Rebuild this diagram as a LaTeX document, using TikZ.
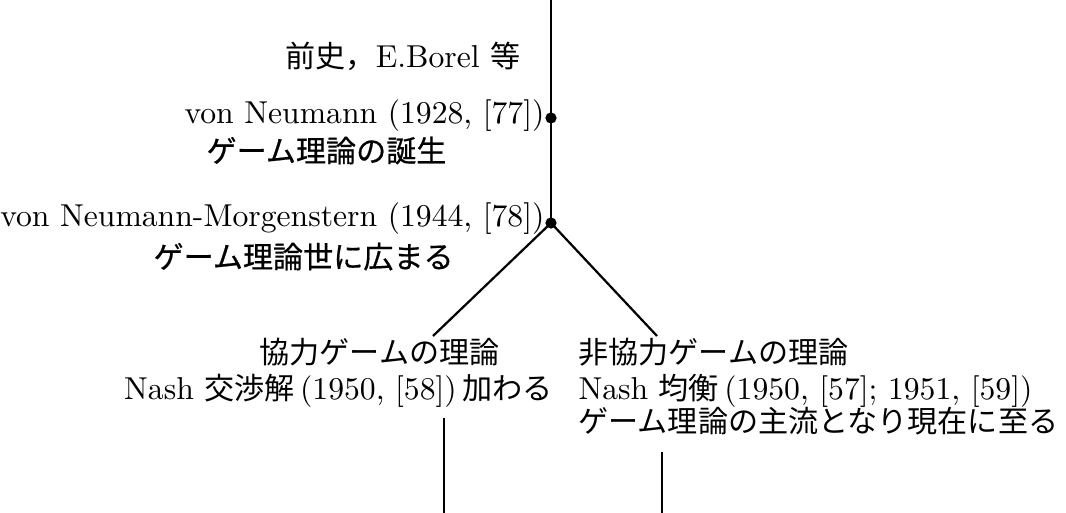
\documentclass[tikz,border=0pt]{standalone}
\usepackage{fontspec}
\newfontfamily\jp[Scale=0.95]{Noto Sans CJK JP}
\newfontfamily\goth[Scale=0.95,FakeBold=0.6]{Noto Sans CJK JP}
\newcommand{\tsp}{\hspace{0.17em}}
\tikzset{
  ln/.style={line width=0.75pt},
  dotm/.style={circle,fill=black,inner sep=0pt,minimum size=3.8pt},
  lbl/.style={inner sep=0pt,font=\fontsize{10.7}{13}\selectfont},
  glbl/.style={inner sep=0pt,font=\fontsize{10.7}{13}\selectfont\goth}
}
\begin{document}
\begin{tikzpicture}[x=0.3378pt,y=-0.3378pt]
\useasboundingbox (0,0) rectangle (1066,513);
\coordinate (top) at (551,0);
\node[dotm] (d1) at (551,118) {};
\node[dotm] (d2) at (551,223) {};
\coordinate (bl) at (433,336);
\coordinate (br) at (657,336);
\coordinate (l1) at (444,418);
\coordinate (l2) at (444,513);
\coordinate (r1) at (662,452);
\coordinate (r2) at (662,513);
\draw[ln] (top) -- (d1.center) -- (d2.center);
\draw[ln] (bl) -- (d2.center) -- (br);
\draw[ln] (l1) -- (l2);
\draw[ln] (r1) -- (r2);
\node[lbl,anchor=base east] (pre) at (521,68) {{\jp 前史，}E.Borel {\jp 等}};
\node[lbl,anchor=base east] (vn) at (545,124) {von Neumann (1928, [77])};
\node[glbl,anchor=base west] (birth) at (206,162) {ゲーム理論の誕生};
\node[lbl,anchor=base east] (vnm) at (545,227) {von Neumann-Morgenstern (1944, [78])};
\node[glbl,anchor=base west] (spread) at (153,268) {ゲーム理論世に広まる};
\node[lbl,anchor=base east] (coop) at (500,364) {\jp 協力ゲームの理論};
\node[lbl,anchor=base east] (nashb) at (553,400) {Nash {\jp 交渉解}\tsp(1950, [58])\tsp{\jp 加わる}};
\node[lbl,anchor=base west] (noncoop) at (578,364) {\jp 非協力ゲームの理論};
\node[lbl,anchor=base west] (nashe) at (578,400) {Nash {\jp 均衡}\tsp(1950, [57]; 1951, [59])};
\node[lbl,anchor=base west] (main) at (578,433) {\jp ゲーム理論の主流となり現在に至る};
\end{tikzpicture}
\end{document}
